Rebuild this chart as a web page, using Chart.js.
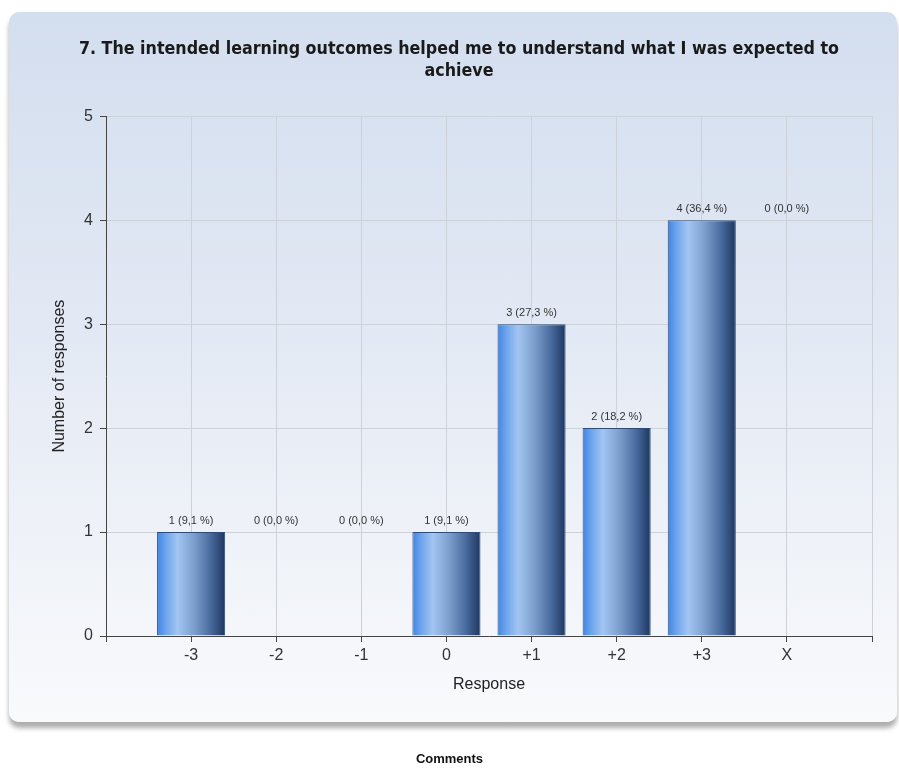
<!DOCTYPE html>
<html>
<head>
<meta charset="utf-8">
<script src="https://cdn.jsdelivr.net/npm/chart.js@4.4.1/dist/chart.umd.min.js"></script>
<style>
  html, body { margin: 0; padding: 0; background: #fff; }
  .page { position: relative; width: 899px; height: 768px; overflow: hidden; }
  .card {
    position: absolute; left: 9px; top: 12px; width: 888px; height: 710px;
    border-radius: 10px;
    background: linear-gradient(to bottom, #d3deef 0%, #e3e9f4 45%, #f9fafc 100%);
    box-shadow: 0 6px 5px rgba(0, 0, 0, 0.32);
  }
  .chart-box { position: absolute; left: 0; top: 0; width: 899px; height: 768px; }
  .comments {
    position: absolute; left: 0; width: 899px; top: 751px; text-align: center;
    font: bold 13px "Liberation Sans", Arial, sans-serif; color: #111;
  }
</style>
</head>
<body>
<div class="page">
  <div class="card"></div>
  <div class="chart-box"><canvas id="chart"></canvas></div>
  <div class="comments">Comments</div>
</div>
<script>
const titleLines = ['7. The intended learning outcomes helped me to understand what I was expected to', 'achieve'];
const categories = ['-3', '-2', '-1', '0', '+1', '+2', '+3', 'X'];
const responses = [1, 0, 0, 1, 3, 2, 4, 0];
const yTicks = [0, 1, 2, 3, 4, 5];

const total = responses.reduce((a, b) => a + b, 0);
const sans = '"Liberation Sans", Arial, sans-serif';

// zero counts keep their label at the height of the bar before them
function labelLevel(i) {
  if (responses[i] > 0 || i === 0) return responses[i];
  return labelLevel(i - 1);
}

function labelText(v) {
  const pct = total ? (v / total * 100).toFixed(1).replace('.', ',') : '0,0';
  return `${v} (${pct} %)`;
}

function barGradient(context) {
  const { chart, raw } = context;
  const xs = chart.scales.x;
  if (!xs || !raw) return '#5b8fd6';
  const x0 = xs.getPixelForValue(raw.x - 0.4);
  const x1 = xs.getPixelForValue(raw.x + 0.4);
  if (!isFinite(x0) || !isFinite(x1)) return '#5b8fd6';
  const g = chart.ctx.createLinearGradient(x0, 0, x1, 0);
  g.addColorStop(0, '#3f84e4');
  g.addColorStop(0.12, '#6aa3ec');
  g.addColorStop(0.3, '#a3c5f2');
  g.addColorStop(0.55, '#7b9dcc');
  g.addColorStop(0.8, '#46679a');
  g.addColorStop(1, '#1d3660');
  return g;
}

const valueLabels = {
  id: 'valueLabels',
  afterDatasetsDraw(chart) {
    const { ctx, scales: { x, y } } = chart;
    ctx.save();
    ctx.font = `11px ${sans}`;
    ctx.fillStyle = '#333';
    ctx.textAlign = 'center';
    ctx.textBaseline = 'middle';
    responses.forEach((v, i) => {
      const px = x.getPixelForValue(i + 1);
      const py = y.getPixelForValue(labelLevel(i)) - 11;
      ctx.fillText(labelText(v), px, py);
    });
    ctx.restore();
  }
};

new Chart(document.getElementById('chart'), {
  type: 'bar',
  data: {
    datasets: [{
      data: categories.map((c, i) => ({ x: i + 1, y: responses[i] })),
      backgroundColor: barGradient,
      borderColor: '#2f4c78',
      borderWidth: 1,
      barPercentage: 0.8,
      categoryPercentage: 1
    }]
  },
  options: {
    responsive: true,
    maintainAspectRatio: false,
    animation: false,
    layout: { padding: { left: 46, right: 27, top: 0, bottom: 70 } },
    plugins: {
      legend: { display: false },
      tooltip: { enabled: false },
      title: {
        display: true,
        text: titleLines,
        color: '#1a1a1a',
        font: { family: '"DejaVu Sans Condensed", "DejaVu Sans", sans-serif', size: 17.7, weight: 'bold', lineHeight: 1.25 },
        padding: { top: 38, bottom: 34 }
      }
    },
    scales: {
      x: {
        type: 'linear',
        offset: false,
        min: 0,
        max: categories.length + 1,
        afterFit(scale) { scale.height = 62; },
        afterBuildTicks(scale) {
          scale.ticks = Array.from({ length: categories.length + 2 }, (_, i) => ({ value: i }));
        },
        ticks: {
          autoSkip: false,
          maxRotation: 0,
          padding: 4,
          color: '#333',
          font: { family: sans, size: 16 },
          callback: v => categories[v - 1] ?? ''
        },
        grid: { offset: false, color: '#cdd2da', tickColor: '#444', tickLength: 6 },
        border: { color: '#444', width: 1 },
        title: {
          display: true,
          text: 'Response',
          color: '#222',
          font: { family: sans, size: 16 },
          padding: 4
        }
      },
      y: {
        min: 0,
        max: 5,
        afterFit(scale) { scale.width = 60; },
        afterBuildTicks(scale) { scale.ticks = yTicks.map(v => ({ value: v })); },
        ticks: {
          padding: 7,
          color: '#333',
          font: { family: sans, size: 16 }
        },
        grid: { color: '#cdd2da', tickColor: '#444', tickLength: 6 },
        border: { color: '#444', width: 1 },
        title: {
          display: true,
          text: 'Number of responses',
          color: '#222',
          font: { family: sans, size: 16 },
          padding: 4
        }
      }
    }
  },
  plugins: [valueLabels]
});
</script>
</body>
</html>
